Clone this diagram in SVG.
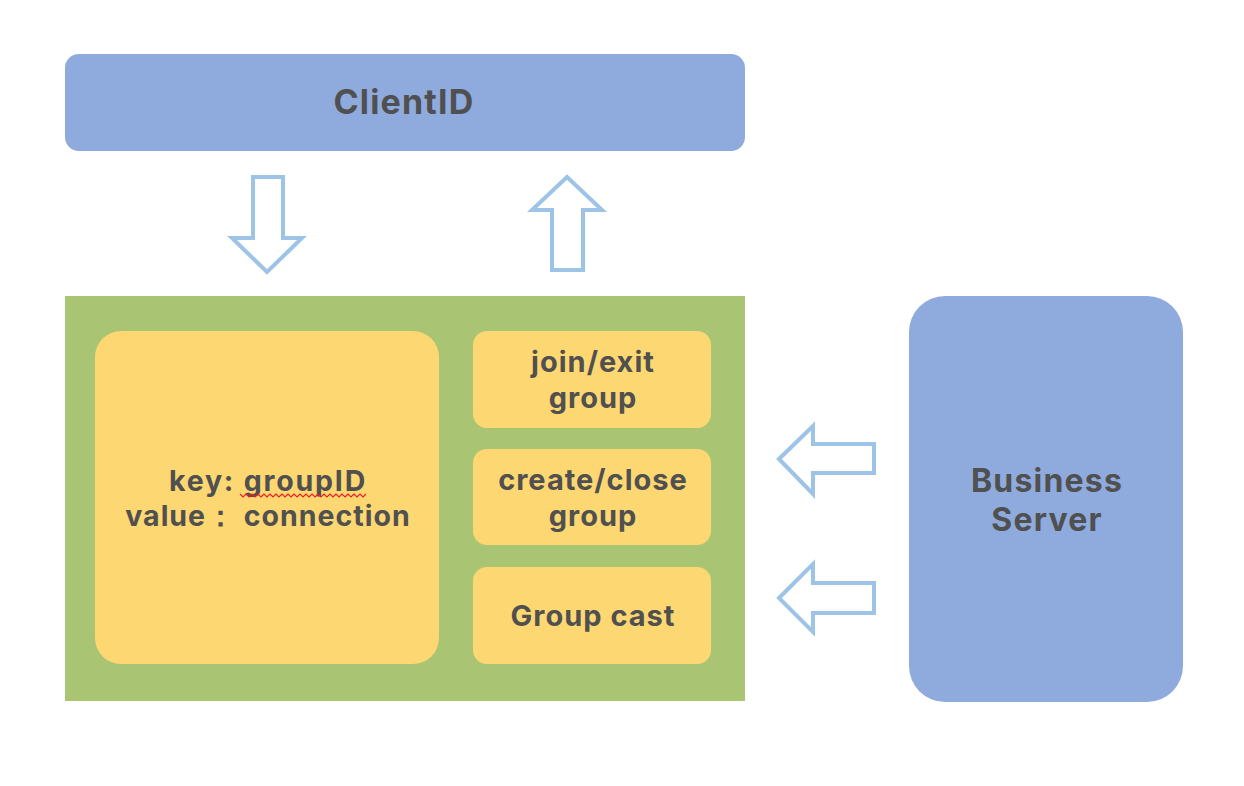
<svg xmlns="http://www.w3.org/2000/svg" width="1244" height="786" viewBox="0 0 1244 786">
<style>
.blue{fill:#8FAADC}
.yel{fill:#FDD771}
.arr{fill:#FFFFFF;stroke:#9DC3E6;stroke-width:4;stroke-linejoin:miter}
text{font-family:Inter,"Noto Sans","Liberation Sans",sans-serif;font-weight:bold;fill:#505050;text-anchor:middle}
.t28{font-size:29px;letter-spacing:1px}
.tk{font-size:28.5px;letter-spacing:1px}
.t32{font-size:32px;letter-spacing:1.2px}
.tc{font-size:34px;letter-spacing:1.2px}
</style>
<rect width="1244" height="786" fill="#FFFFFF"/>
<g id="clientid">
<rect class="blue" x="65" y="54" width="680" height="97" rx="14"/>
<text class="tc" x="404" y="114">ClientID</text>
</g>
<g id="server-box">
<rect x="65" y="296" width="680" height="405" fill="#A9C574"/>
</g>
<g id="map">
<rect class="yel" x="95" y="331" width="344" height="333" rx="26"/>
<text class="tk" x="267" y="491"><tspan x="268" style="letter-spacing:1.8px">key: groupID</tspan><tspan x="268" dy="35">value：  connection</tspan></text>
<polyline points="240,494 243,497 246,494 249,497 252,494 255,497 258,494 261,497 264,494 267,497 270,494 273,497 276,494 279,497 282,494 285,497 288,494 291,497 294,494 297,497 300,494 303,497 306,494 309,497 312,494 315,497 318,494 321,497 324,494 327,497 330,494 333,497 336,494 339,497 342,494 345,497 348,494 351,497 354,494 357,497 360,494 363,497 366,494" fill="none" stroke="#E8202A" stroke-width="1.2"/>
</g>
<g id="join-exit">
<rect class="yel" x="473" y="331" width="238" height="97" rx="14"/>
<text class="t28" x="592" y="372"><tspan x="593">join/exit</tspan><tspan x="593" dy="36">group</tspan></text>
</g>
<g id="create-close">
<rect class="yel" x="473" y="449" width="238" height="96" rx="14"/>
<text class="t28" x="592" y="490"><tspan x="593">create/close</tspan><tspan x="593" dy="36">group</tspan></text>
</g>
<g id="group-cast">
<rect class="yel" x="473" y="567" width="238" height="97" rx="14"/>
<text class="t28" x="593" y="626">Group cast</text>
</g>
<g id="business-server">
<rect class="blue" x="909" y="296" width="274" height="406" rx="36"/>
<text class="t32" x="1047" y="492"><tspan x="1047">Business</tspan><tspan x="1047" dy="39">Server</tspan></text>
</g>
<g id="connectors">
<polygon class="arr" points="253,177 283,177 283,238 302,238 267,272 232,238 253,238"/>
<polygon class="arr" points="567,177 602,210 583,210 583,270 552,270 552,210 532,210"/>
<polygon class="arr" points="779,459 813,426 813,444 874,444 874,473 813,473 813,494"/>
<polygon class="arr" points="779,598 813,564 813,583 874,583 874,613 813,613 813,632"/>
</g>
</svg>
